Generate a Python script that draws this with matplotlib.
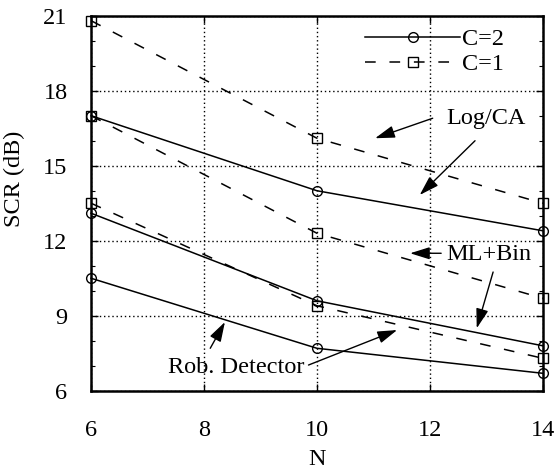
import matplotlib
matplotlib.use('Agg')
import matplotlib.pyplot as plt
from matplotlib.ticker import MultipleLocator

plt.rcParams['font.family'] = ['Liberation Serif', 'DejaVu Serif']

# data
N = [6, 10, 14]
logca_c1 = [20.8, 16.1, 13.5]
logca_c2 = [17.0, 14.0, 12.4]
mlbin_c1 = [17.0, 12.3, 9.7]
mlbin_c2 = [13.1, 9.6, 7.8]
rob_c1 = [13.5, 9.4, 7.3]
rob_c2 = [10.5, 7.7, 6.7]

xticks = [6, 8, 10, 12, 14]
yticks = [6, 9, 12, 15, 18, 21]

FS = 17.5


def main():
    fig = plt.figure(figsize=(5.59, 4.76), dpi=100)
    ax = fig.add_axes([0.163, 0.179, 0.808, 0.788])

    solid = dict(color='k', lw=1.1, marker='o', ms=7, mfc='none', mec='k', mew=1.0, clip_on=False)
    dashed = dict(color='k', lw=1.1, ls=(0, (7, 9)), marker='s', ms=7, mfc='none', mec='k', mew=1.0, clip_on=False)

    ax.plot(N, logca_c2, label='C=2', **solid)
    ax.plot(N, logca_c1, label='C=1', **dashed)
    ax.plot(N, mlbin_c2, **solid)
    ax.plot(N, mlbin_c1, **dashed)
    ax.plot(N, rob_c2, **solid)
    ax.plot(N, rob_c1, **dashed)

    ax.set_xlim(6, 14)
    ax.set_ylim(6, 21)
    ax.set_xticks(xticks)
    ax.set_yticks(yticks)
    ax.yaxis.set_minor_locator(MultipleLocator(1))
    ax.tick_params(which='both', direction='in', right=True, top=True, labelsize=FS)
    ax.tick_params(which='major', length=5, width=1)
    ax.tick_params(which='minor', length=3, width=0.8)
    ax.tick_params(axis='x', pad=21)
    ax.tick_params(axis='y', pad=17)
    for s in ax.spines.values():
        s.set_linewidth(1.8)

    ax.grid(True, which='major', ls=(0, (1, 2)), color='k', lw=1.0)

    ax.set_xlabel('N', fontsize=FS, labelpad=6)
    ax.set_ylabel('SCR (dB)', fontsize=FS)
    ax.yaxis.set_label_coords(-0.147, 0.565)

    ax.legend(loc='upper right', bbox_to_anchor=(0.915, 0.966), frameon=False, fontsize=FS,
              handlelength=3.9, handletextpad=0.1, labelspacing=0.12, borderaxespad=0,
              borderpad=0)

    arrow = dict(arrowstyle='-|>,head_length=0.8,head_width=0.25', color='k', lw=1.0,
                 mutation_scale=15, shrinkA=0, shrinkB=0)
    ax.text(13.0, 16.9, 'Log/CA', fontsize=FS, ha='center', va='center')
    ax.annotate('', xy=(11.03, 16.1), xytext=(12.05, 16.9), arrowprops=arrow)
    ax.annotate('', xy=(11.82, 13.83), xytext=(12.8, 16.0), arrowprops=arrow)

    ax.text(13.05, 11.45, 'ML+Bin', fontsize=FS, ha='center', va='center')
    ax.annotate('', xy=(11.65, 11.5), xytext=(12.2, 11.5), arrowprops=arrow)
    ax.annotate('', xy=(12.83, 8.5), xytext=(13.12, 10.75), arrowprops=arrow)

    ax.text(8.57, 6.95, 'Rob. Detector', fontsize=FS, ha='center', va='center')
    ax.annotate('', xy=(8.37, 8.75), xytext=(8.11, 7.7), arrowprops=arrow)
    ax.annotate('', xy=(11.42, 8.43), xytext=(9.85, 7.03), arrowprops=arrow)

    fig.savefig('out.png', dpi=100)


if __name__ == "__main__":
    main()
